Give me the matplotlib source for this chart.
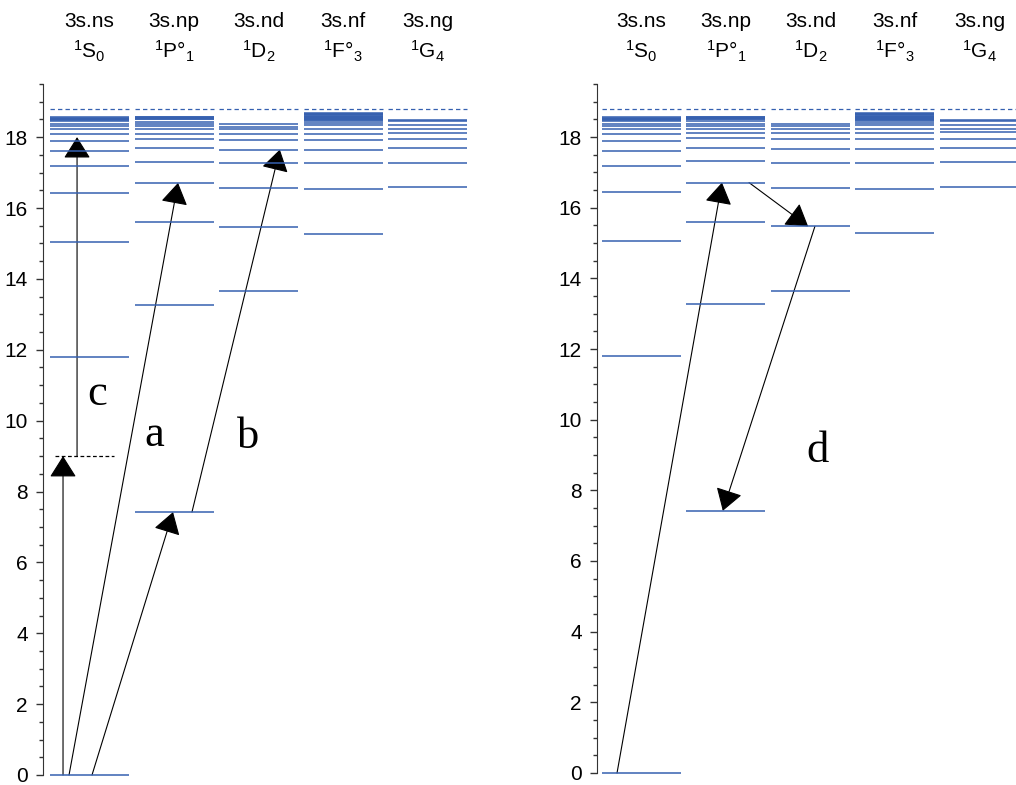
import matplotlib.pyplot as plt
from matplotlib.patches import FancyArrowPatch
from matplotlib.ticker import MultipleLocator

plt.rcParams["font.family"] = ["Liberation Sans", "DejaVu Sans"]
plt.rcParams["mathtext.fontset"] = "custom"
plt.rcParams["mathtext.rm"] = "Liberation Sans"
plt.rcParams["mathtext.it"] = "Liberation Sans:italic"

# energy levels (eV) per series
series = ["3s.ns", "3s.np", "3s.nd", "3s.nf", "3s.ng"]
terms = ["$^1$S$_0$", "$^1$P°$_1$", "$^1$D$_2$", "$^1$F°$_3$", "$^1$G$_4$"]
ns_levels = [0.0, 11.80, 15.05, 16.43, 17.18, 17.61, 17.89, 18.09, 18.22, 18.32,
             18.38, 18.46, 18.48, 18.50, 18.52, 18.54, 18.56]
np_levels = [7.42, 13.26, 15.60, 16.71, 17.31, 17.70, 17.96, 18.10, 18.23, 18.31,
             18.38, 18.44, 18.50, 18.52, 18.54, 18.56, 18.58]
nd_levels = [13.65, 15.47, 16.56, 17.26, 17.65, 17.93, 18.10, 18.23, 18.30, 18.36]
nf_levels = [15.28, 16.53, 17.26, 17.65, 17.93, 18.10, 18.23, 18.34, 18.40,
             18.46, 18.48, 18.50, 18.52, 18.54, 18.56, 18.58, 18.60, 18.62,
             18.64, 18.66, 18.68]
ng_levels = [16.59, 17.28, 17.69, 17.95, 18.13, 18.23, 18.34, 18.45, 18.47]
all_levels = [ns_levels, np_levels, nd_levels, nf_levels, ng_levels]
ion_limit = 18.79

blue = "#3560b0"
col_w = 0.935

fig = plt.figure(figsize=(10.16, 7.85), dpi=100)
ax1 = fig.add_axes([43 / 1016, 10 / 785, 429.5 / 1016, 691 / 785])
ax2 = fig.add_axes([597 / 1016, 12 / 785, 419 / 1016, 689 / 785])


def draw_diagram(ax, xmin, xmax):
    ax.set_xlim(xmin, xmax)
    ax.set_ylim(0, 19.5)
    for i, levels in enumerate(all_levels):
        ax.hlines(levels, i, i + col_w, colors=blue, lw=1.1, clip_on=False)
        ax.hlines(ion_limit, i, i + col_w, colors=blue, lw=0.9,
                  linestyles=(0, (3.5, 2.5)))
        ax.text(i + col_w / 2, 21.27, series[i], ha="center", va="center",
                fontsize=15)
        ax.text(i + col_w / 2, 20.42, terms[i], ha="center", va="center",
                fontsize=15)
    for s in ["top", "right", "bottom"]:
        ax.spines[s].set_visible(False)
    ax.spines["left"].set_color("#333333")
    ax.set_xticks([])
    ax.yaxis.set_major_locator(MultipleLocator(2))
    ax.yaxis.set_minor_locator(MultipleLocator(0.5))
    ax.tick_params(axis="y", which="major", length=5, width=1, labelsize=15,
                   pad=6, color="#333333")
    ax.tick_params(axis="y", which="minor", length=3, width=1, color="#333333")


def arrow(ax, p0, p1):
    a = FancyArrowPatch(p0, p1, arrowstyle="-|>,head_length=13.5,head_width=8.5",
                        mutation_scale=1, shrinkA=0, shrinkB=0, color="black",
                        lw=0.8, clip_on=False)
    ax.add_patch(a)


def label(ax, x, y, s):
    ax.text(x, y, s, ha="center", va="center", fontsize=32,
            family="Liberation Serif")


draw_diagram(ax1, -0.083, 5.0)
draw_diagram(ax2, -0.059, 4.9)

# left panel transitions
arrow(ax1, (0.154, 0.0), (0.154, 9.0))
ax1.hlines(9.0, 0.059, 0.757, colors="black", lw=0.9, linestyles=(0, (3, 2)))
arrow(ax1, (0.32, 9.0), (0.32, 18.0))
arrow(ax1, (0.225, 0.0), (1.515, 16.71))
arrow(ax1, (0.497, 0.0), (1.456, 7.42))
arrow(ax1, (1.68, 7.42), (2.72, 17.65))
label(ax1, 0.556, 10.75, "c")
label(ax1, 1.23, 9.6, "a")
label(ax1, 2.34, 9.53, "b")

# right panel transitions
arrow(ax2, (0.178, 0.0), (1.42, 16.71))
arrow(ax2, (1.74, 16.71), (2.44, 15.47))
arrow(ax2, (2.52, 15.47), (1.43, 7.42))
label(ax2, 2.556, 9.1, "d")

fig.savefig("out.png", dpi=100)
